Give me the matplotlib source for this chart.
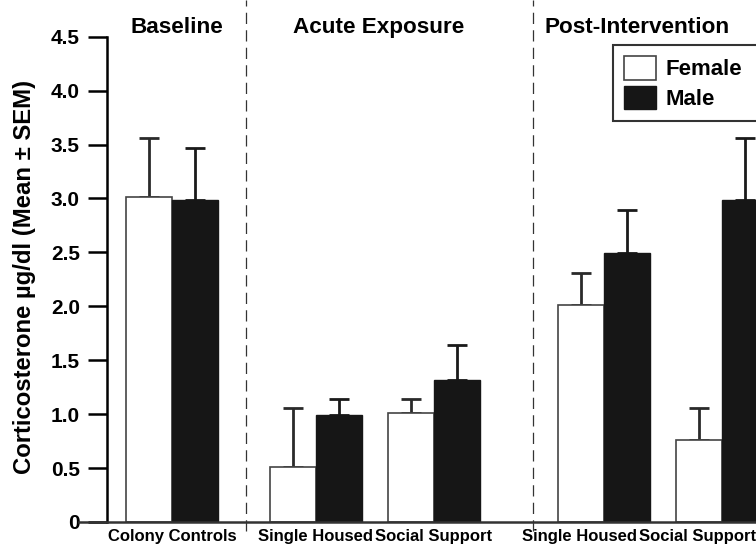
import matplotlib
matplotlib.use("Agg")
from matplotlib import pyplot as plt

# data
groups = ["Baseline", "Acute Exposure", "Post-Intervention"]
conditions = ["Colony Controls", "Single Housed", "Social Support", "Single Housed", "Social Support"]
female_mean = [3.01, 0.51, 1.01, 2.01, 0.76]
female_sem = [0.55, 0.55, 0.13, 0.30, 0.30]
male_mean = [2.99, 0.99, 1.32, 2.49, 2.99]
male_sem = [0.48, 0.15, 0.32, 0.40, 0.57]

plt.rcParams['font.family'] = ['Liberation Sans', 'DejaVu Sans']
plt.rcParams['font.weight'] = 'bold'

fig = plt.figure(figsize=(7.56, 5.46), dpi=100)
ax = fig.add_axes([0.1045, 0.044, 0.8955, 0.956])

# layout (one unit = one bar width)
centers = [1.41, 4.54, 7.11, 10.80, 13.37]
label_x = [1.41, 4.54, 7.11, 10.28, 12.85]
dividers = [3.02, 9.26]
group_x = [1.52, 5.90, 11.52]
w = 1.0

fpos = [c - w / 2 for c in centers]
mpos = [c + w / 2 for c in centers]

ax.bar(fpos, female_mean, width=w, color='white', edgecolor='#444444', linewidth=1.2,
       label='Female', zorder=2)
ax.bar(mpos, male_mean, width=w, color='#161616', edgecolor='#161616', linewidth=1.0,
       label='Male', zorder=2)
ax.errorbar(fpos, female_mean, yerr=[[0] * 5, female_sem], fmt='none', ecolor='#2a2a2a',
            elinewidth=2.0, capsize=7, capthick=2.0, zorder=1)
ax.errorbar(mpos, male_mean, yerr=[[0] * 5, male_sem], fmt='none', ecolor='#1a1a1a',
            elinewidth=2.0, capsize=7, capthick=2.0, zorder=1)

for d in dividers:
    ax.plot([d, d], [-0.08, 4.84], color='#333333', linestyle=(0, (9, 5)), linewidth=0.9,
            clip_on=False, zorder=0)

for g, gx in zip(groups, group_x):
    ax.text(gx, 4.536, g, ha='center', va='baseline', fontsize=16.2, fontweight='bold')

ax.set_xlim(-0.61, 14.11)
ax.set_ylim(0, 4.84)

ax.spines['top'].set_visible(False)
ax.spines['right'].set_visible(False)
ax.spines['left'].set_position(('data', 0))
ax.spines['left'].set_bounds(0, 4.5)
ax.spines['left'].set_linewidth(1.8)
ax.spines['bottom'].set_linewidth(1.8)
ax.spines['bottom'].set_color('#333333')

yt = [0, 0.5, 1.0, 1.5, 2.0, 2.5, 3.0, 3.5, 4.0, 4.5]
ax.set_yticks(yt)
ax.set_yticklabels(['0'] + ['%.1f' % v for v in yt[1:]], fontsize=15, fontweight='bold')
ax.tick_params(axis='y', length=14, width=1.8, pad=5.5)

ax.set_xticks(label_x)
ax.set_xticklabels(conditions, fontsize=12, fontweight='bold')
ax.tick_params(axis='x', length=0, pad=5)

ax.set_ylabel('Corticosterone µg/dl (Mean ± SEM)', fontsize=17.2, fontweight='bold')
ax.yaxis.set_label_coords(-0.064, 2.27 / 4.84)

leg = ax.legend(loc='upper left', bbox_to_anchor=(613 / 756, 0, 0.25, 1 - 45 / 546),
                bbox_transform=fig.transFigure, mode='expand',
                prop={'size': 16, 'weight': 'bold'}, frameon=True, fancybox=False,
                handlelength=1.45, handleheight=1.25, borderpad=0.5, labelspacing=0.25,
                handletextpad=0.4, borderaxespad=0)
leg.get_frame().set_edgecolor('black')
leg.get_frame().set_linewidth(1.5)

fig.savefig('out.png', dpi=100)
